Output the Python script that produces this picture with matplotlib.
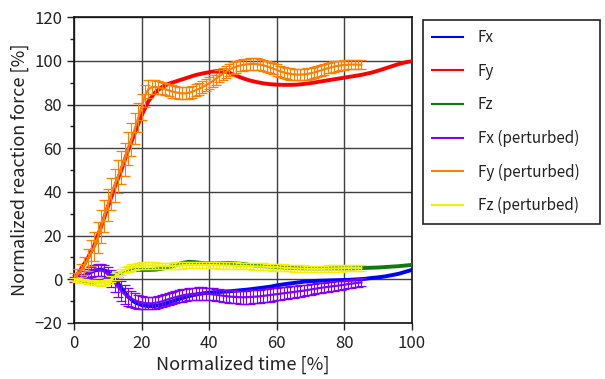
import numpy as np
import matplotlib
matplotlib.use('Agg')
import matplotlib.pyplot as plt
from matplotlib.ticker import MultipleLocator

plt.rcParams['font.family'] = ['Noto Sans CJK JP', 'DejaVu Sans']

# baseline curves, sampled every 2 %
t_base = np.arange(0, 101, 2)
fx = [0, 1.0, 2.5, 4.0, 4.5, 3.5, 0.5, -4.0, -8.0, -10.5, -11.8, -12.3, -12.2, -11.6, -10.6, -9.6,
      -8.6, -7.7, -7.0, -6.5, -6.1, -5.9, -5.7, -5.5, -5.2, -4.9, -4.6, -4.2, -3.8, -3.4, -2.8,
      -2.3, -1.9, -1.5, -1.1, -0.9, -0.7, -0.6, -0.5, -0.4, -0.3, -0.2, 0.0, 0.2, 0.6, 0.9,
      1.3, 1.9, 2.5, 3.4, 4.3]
fy = [0, 4.5, 9.5, 15.5, 24, 33, 42, 50, 59, 67, 75, 81.5, 85.5, 88, 89.5, 90.5,
      91.5, 92.5, 93.5, 94.2, 94.8, 95.3, 95.3, 94.5, 93.2, 92.0, 91.0, 90.3, 89.7, 89.3, 89.1,
      89.0, 89.0, 89.1, 89.4, 89.8, 90.3, 90.8, 91.3, 91.8, 92.3, 92.8, 93.3, 93.9, 94.6, 95.5,
      96.5, 97.5, 98.5, 99.3, 99.8]
fz = [0, -0.5, -1.0, -1.5, -1.0, 0.5, 2.0, 3.0, 3.8, 4.2, 4.3, 4.3, 4.4, 4.8, 5.5, 6.5,
      7.5, 8.0, 7.8, 7.4, 7.3, 7.3, 7.4, 7.5, 7.3, 7.0, 6.6, 6.2, 6.0, 5.8, 5.6,
      5.4, 5.2, 5.1, 5.0, 5.0, 5.0, 5.0, 5.0, 5.0, 5.0, 5.0, 5.1, 5.2, 5.3, 5.4,
      5.6, 5.8, 6.0, 6.3, 6.6]

# perturbed curves, sampled every 1 % up to 85 %
t_pert = np.arange(0, 86, 1)
fx_p = [0, 0.5, 1.0, 1.8, 2.6, 3.4, 4.0, 4.3, 4.2, 3.5, 2.2, 0.4, -1.6, -3.6, -5.4, -6.9,
        -8.0, -8.9, -9.6, -10.2, -10.6, -10.9, -11.0, -11.0, -10.8, -10.5, -10.1, -9.6, -9.1, -8.6,
        -8.2, -7.8, -7.4, -7.1, -6.9, -6.7, -6.6, -6.5, -6.5, -6.6, -6.7, -6.9, -7.1, -7.3, -7.5,
        -7.7, -7.9, -8.0, -8.1, -8.2, -8.2, -8.2, -8.1, -8.0, -7.9, -7.8, -7.6, -7.4, -7.2, -7.0,
        -6.8, -6.6, -6.4, -6.2, -6.0, -5.8, -5.6, -5.4, -5.2, -4.9, -4.7, -4.4, -4.2, -3.9, -3.7,
        -3.5, -3.3, -3.1, -2.9, -2.7, -2.5, -2.2, -2.0, -1.8, -1.6, -1.4]
fy_p = [1.0, 2.0, 4.0, 6.0, 9.0, 12.0, 15.0, 19.0, 24.0, 29.0, 34.0, 39.0, 43.0, 47.0, 51.0, 55.0,
        60.0, 64.0, 69.0, 74.0, 79.0, 84.0, 87.0, 88.0, 88.0, 87.8, 87.4, 87.0, 86.5, 86.0,
        85.6, 85.3, 85.1, 85.1, 85.4, 85.9, 86.5, 87.2, 88.0, 88.8, 89.7, 90.7, 91.8, 92.9, 94.0,
        95.0, 95.9, 96.7, 97.3, 97.8, 98.1, 98.4, 98.5, 98.6, 98.5, 98.3, 98.0, 97.5, 97.0, 96.4,
        95.8, 95.2, 94.7, 94.3, 94.0, 93.8, 93.7, 93.7, 93.8, 94.0, 94.3, 94.7, 95.1, 95.6, 96.1,
        96.6, 97.0, 97.4, 97.7, 97.9, 98.1, 98.2, 98.3, 98.3, 98.3, 98.2]
fz_p = [0, -0.3, -0.6, -0.9, -1.1, -1.3, -1.5, -1.7, -1.8, -1.6, -1.0, 0.0, 1.2, 2.4, 3.4, 4.2,
        4.8, 5.3, 5.7, 6.0, 6.2, 6.3, 6.3, 6.3, 6.2, 6.1, 6.0, 6.0, 6.0, 6.1,
        6.2, 6.3, 6.4, 6.5, 6.5, 6.5, 6.5, 6.5, 6.5, 6.5, 6.5, 6.5, 6.5, 6.4, 6.4,
        6.3, 6.3, 6.2, 6.2, 6.1, 6.1, 6.0, 6.0, 5.9, 5.9, 5.8, 5.8, 5.7, 5.6, 5.5,
        5.5, 5.4, 5.3, 5.2, 5.1, 5.0, 5.0, 4.9, 4.9, 4.8, 4.8, 4.8, 4.8, 4.8, 4.8,
        4.9, 4.9, 5.0, 5.0, 5.0, 5.1, 5.1, 5.1, 5.1, 5.1, 5.1]

# standard deviations of the perturbed curves
fx_p_sd = [1.2, 1.4, 1.6, 1.8, 2.0, 2.2, 2.4, 2.6, 2.8, 3.2, 3.6, 4.0, 4.4, 4.6, 4.6, 4.4,
           4.0, 3.7, 3.4, 3.2, 3.0, 2.9, 2.8, 2.8, 2.8, 2.8, 2.8, 2.8, 2.8, 2.8,
           2.8, 2.8, 2.8, 2.8, 2.8, 2.8, 2.8, 2.8, 2.8, 2.8, 2.8, 2.8, 2.8, 2.8, 2.8,
           2.9, 2.9, 2.9, 2.9, 3.0, 3.0, 3.0, 3.0, 3.0, 3.0, 3.0, 3.0, 3.0, 3.0, 2.9,
           2.9, 2.9, 2.8, 2.8, 2.7, 2.7, 2.6, 2.6, 2.5, 2.5, 2.4, 2.4, 2.3, 2.3, 2.2,
           2.2, 2.1, 2.1, 2.0, 2.0, 1.9, 1.9, 1.9, 1.8, 1.8, 1.8]
fy_p_sd = [2.0, 2.5, 3.0, 4.0, 5.0, 6.0, 6.5, 7.0, 7.5, 7.5, 7.5, 7.5, 7.5, 7.5, 7.5, 7.5,
           7.5, 7.5, 7.0, 6.5, 6.0, 5.0, 4.0, 3.4, 3.0, 2.8, 2.8, 2.8, 2.8, 2.8,
           2.8, 2.8, 2.8, 2.8, 2.8, 2.8, 2.8, 2.8, 2.8, 2.8, 2.8, 2.8, 2.8, 2.8, 2.8,
           2.7, 2.7, 2.7, 2.7, 2.6, 2.6, 2.6, 2.6, 2.6, 2.6, 2.6, 2.6, 2.6, 2.6, 2.6,
           2.6, 2.6, 2.6, 2.6, 2.6, 2.6, 2.6, 2.6, 2.6, 2.6, 2.6, 2.6, 2.5, 2.5, 2.5,
           2.4, 2.4, 2.3, 2.3, 2.2, 2.2, 2.1, 2.1, 2.1, 2.0, 2.0]
fz_p_sd = [0.8, 0.8, 0.9, 0.9, 1.0, 1.0, 1.1, 1.1, 1.2, 1.2, 1.3, 1.4, 1.5, 1.5, 1.5, 1.5,
           1.5, 1.5, 1.5, 1.5, 1.5, 1.5, 1.5, 1.5, 1.5, 1.5, 1.5, 1.5, 1.5, 1.5,
           1.5, 1.5, 1.5, 1.5, 1.5, 1.5, 1.5, 1.5, 1.5, 1.5, 1.5, 1.5, 1.5, 1.5, 1.5,
           1.5, 1.5, 1.5, 1.5, 1.5, 1.5, 1.5, 1.5, 1.5, 1.5, 1.5, 1.5, 1.5, 1.5, 1.5,
           1.5, 1.5, 1.5, 1.5, 1.5, 1.5, 1.5, 1.5, 1.5, 1.5, 1.5, 1.5, 1.5, 1.5, 1.5,
           1.5, 1.5, 1.5, 1.5, 1.5, 1.5, 1.5, 1.5, 1.5, 1.5, 1.5]

labels = ['Fx', 'Fy', 'Fz', 'Fx (perturbed)', 'Fy (perturbed)', 'Fz (perturbed)']
colors = ['#0000ff', '#ff0000', '#107a10', '#8000ff', '#ff7f00', '#f2f200']

fig = plt.figure(figsize=(6.05, 3.79), dpi=100)
ax = fig.add_axes([0.1223, 0.1478, 0.5587, 0.807])

for y, c, lab in zip([fx, fy, fz], colors[:3], labels[:3]):
    ax.plot(t_base, y, color=c, lw=2.8, label=lab, zorder=3)

for y, e, c, lab in zip([fx_p, fy_p, fz_p], [fx_p_sd, fy_p_sd, fz_p_sd], colors[3:], labels[3:]):
    ax.errorbar(t_pert, y, yerr=e, fmt='none', ecolor=c, elinewidth=0.8,
                capsize=3.4, capthick=0.9, zorder=4, clip_on=False)
    ax.plot(t_pert, y, color=c, lw=1.6, label=lab, zorder=4)

ax.set_xlim(0, 100)
ax.set_ylim(-20, 120)
ax.xaxis.set_major_locator(MultipleLocator(20))
ax.yaxis.set_major_locator(MultipleLocator(20))
ax.yaxis.set_minor_locator(MultipleLocator(10))
ax.grid(True, which='major', color='#404040', lw=1.0)
ax.tick_params(which='major', direction='out', length=5, width=1, labelsize=12, colors='#222222')
ax.tick_params(which='minor', direction='out', length=3, width=1, colors='#222222')
for s in ax.spines.values():
    s.set_color('#111111')
    s.set_linewidth(1.2)

ax.set_xlabel('Normalized time [%]', fontsize=13, color='#222222', labelpad=3)
ax.set_ylabel('Normalized reaction force [%]', fontsize=13, color='#222222', labelpad=4)

leg = fig.legend(handles=[plt.Line2D([], [], color=c, lw=1.5) for c in colors], labels=labels,
                 loc='upper left', bbox_to_anchor=(0.699, 0.947, 0.293, 0.0), mode='expand',
                 fontsize=11, labelspacing=1.08, handlelength=2.0, handletextpad=1.0,
                 borderpad=0.6, fancybox=False, framealpha=1, edgecolor='#222222',
                 borderaxespad=0)
leg.get_frame().set_linewidth(1.2)
for t in leg.get_texts():
    t.set_color('#222222')

fig.savefig('out.png', dpi=100)
